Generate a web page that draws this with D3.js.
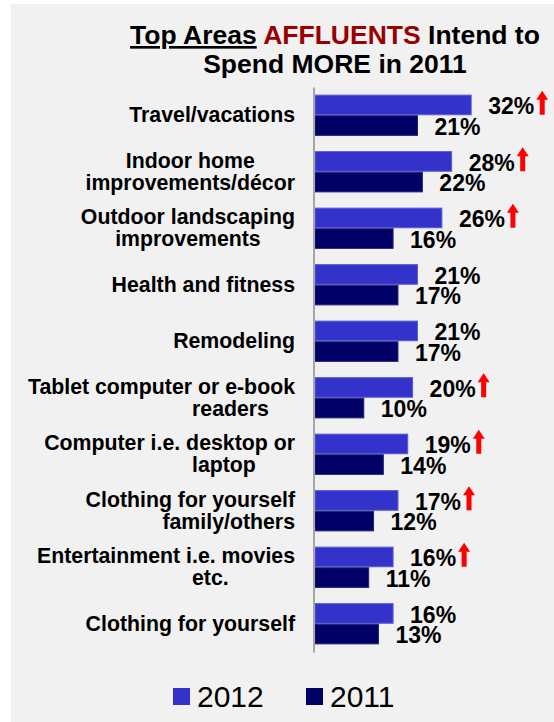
<!DOCTYPE html>
<html>
<head>
<meta charset="utf-8">
<script src="https://cdn.jsdelivr.net/npm/d3@7"></script>
<style>
  html, body { margin: 0; padding: 0; background: #ffffff; }
  svg { display: block; font-family: "Liberation Sans", Arial, sans-serif; }
</style>
</head>
<body>
<script>
// Spending intentions by category, two survey years
const categoryLines = [
  ["Travel/vacations"],
  ["Indoor home", "improvements/décor"],
  ["Outdoor landscaping", "improvements"],
  ["Health and fitness"],
  ["Remodeling"],
  ["Tablet computer or e-book", "readers"],
  ["Computer i.e. desktop or", "laptop"],
  ["Clothing for yourself", "family/others"],
  ["Entertainment i.e. movies", "etc."],
  ["Clothing for yourself"]
];
const seriesNames = ["2012", "2011"];
const values2012 = [32, 28, 26, 21, 21, 20, 19, 17, 16, 16];
const values2011 = [21, 22, 16, 17, 17, 10, 14, 12, 11, 13];
// categories flagged with an upward arrow
const rising = [true, true, true, false, false, true, true, true, true, false];

const W = 554, H = 722;
const colors = { "2012": "#3333cc", "2011": "#000066" };
const strokes = { "2012": "#5a5ad6", "2011": "#222277" };

const svg = d3.select("body").append("svg")
  .attr("width", W).attr("height", H);

// panel background
svg.append("rect")
  .attr("x", 11).attr("y", 4)
  .attr("width", W - 11).attr("height", H - 4)
  .attr("fill", "#f1f1f1");

// title
const title = svg.append("text")
  .attr("x", 335).attr("y", 44)
  .attr("text-anchor", "middle")
  .attr("font-size", 26.5).attr("font-weight", "bold")
  .attr("fill", "#000");
title.append("tspan").text("Top Areas").style("text-decoration", "underline");
title.append("tspan").text(" ");
title.append("tspan").text("AFFLUENTS").attr("fill", "#990000");
title.append("tspan").text(" Intend to");
svg.append("text")
  .attr("x", 335).attr("y", 73)
  .attr("text-anchor", "middle")
  .attr("font-size", 26.5).attr("font-weight", "bold")
  .text("Spend MORE in 2011");

// scales
const n = categoryLines.length;
const y = d3.scaleBand().domain(d3.range(n))
  .range([87, 652]).paddingInner(0.27).paddingOuter(0.135);
const ySub = d3.scaleBand().domain(seriesNames).range([0, y.bandwidth()]);
const x = d3.scaleLinear().domain([0, 35]).range([315, 315 + 35 * 4.88]);

const rows = d3.range(n).map(i => ({
  i,
  lines: categoryLines[i],
  vals: [
    { key: "2012", v: values2012[i] },
    { key: "2011", v: values2011[i] }
  ],
  up: rising[i]
}));

// bars
const groups = svg.append("g").selectAll("g.row")
  .data(rows).join("g")
  .attr("class", "row")
  .attr("transform", d => `translate(0,${y(d.i)})`);

groups.selectAll("rect")
  .data(d => d.vals).join("rect")
  .attr("x", x(0))
  .attr("y", d => ySub(d.key) + 0.5)
  .attr("width", d => x(d.v) - x(0))
  .attr("height", ySub.bandwidth() - 1)
  .attr("fill", d => colors[d.key])
  .attr("stroke", d => strokes[d.key])
  .attr("stroke-width", 1);

// value labels
groups.selectAll("text.val")
  .data(d => d.vals).join("text")
  .attr("class", "val")
  .attr("x", d => x(d.v) + 17)
  .attr("y", d => ySub(d.key) + ySub.bandwidth() - 1)
  .attr("font-size", 23).attr("font-weight", "bold")
  .attr("fill", "#000")
  .text(d => d.v + "%");

// red arrows after the 2012 label of rising categories
groups.filter(d => d.up).each(function(d) {
  const g = d3.select(this);
  const lbl = g.selectAll("text.val").filter(v => v.key === "2012").node();
  const ax = x(d.vals[0].v) + 17 + lbl.getComputedTextLength() + 2;
  const ay = ySub("2012") - 4;
  const p = d3.path();
  p.moveTo(ax + 6, ay);
  p.lineTo(ax + 12, ay + 9);
  p.lineTo(ax + 8.5, ay + 9);
  p.lineTo(ax + 8.5, ay + 24);
  p.lineTo(ax + 3.5, ay + 24);
  p.lineTo(ax + 3.5, ay + 9);
  p.lineTo(ax, ay + 9);
  p.closePath();
  g.append("path").attr("d", p.toString()).attr("fill", "#ff0000");
});

// vertical category axis line
const axis = svg.append("g")
  .attr("transform", "translate(313.5,0)")
  .call(d3.axisLeft(y).tickSize(0).tickSizeOuter(0).tickFormat(""));
axis.select(".domain").attr("stroke", "#a6a6a6").attr("stroke-width", 2);

// category labels
const labelRight = 295, lineH = 22, indentX = 192;
const wrappedIndented = new Set([5, 6, 7, 8]);
rows.forEach(d => {
  const cy = y(d.i) + y.bandwidth() / 2;
  const first = cy + 7 - (d.lines.length - 1) * lineH / 2;
  const texts = d.lines.map((line, k) =>
    svg.append("text")
      .attr("y", first + k * lineH)
      .attr("font-size", 21.3).attr("font-weight", "bold")
      .attr("fill", "#000")
      .text(line));
  if (d.lines.length === 1) {
    texts[0].attr("x", labelRight).attr("text-anchor", "end");
  } else {
    const widths = texts.map(t => t.node().getComputedTextLength());
    const center = labelRight - d3.max(widths) / 2;
    texts.forEach((t, k) => {
      if (k > 0 && wrappedIndented.has(d.i)) {
        t.attr("x", Math.min(indentX, labelRight - widths[k]))
          .attr("text-anchor", "start");
      } else {
        t.attr("x", center).attr("text-anchor", "middle");
      }
    });
  }
});

// legend
const legendX = [173, 306];
const legend = svg.append("g").selectAll("g")
  .data(seriesNames).join("g")
  .attr("transform", (d, i) => `translate(${legendX[i]},688)`);
legend.append("rect")
  .attr("width", 17).attr("height", 17)
  .attr("fill", d => colors[d]);
legend.append("text")
  .attr("x", 24).attr("y", 19)
  .attr("font-size", 30)
  .attr("fill", "#000")
  .text(d => d);
</script>
</body>
</html>
